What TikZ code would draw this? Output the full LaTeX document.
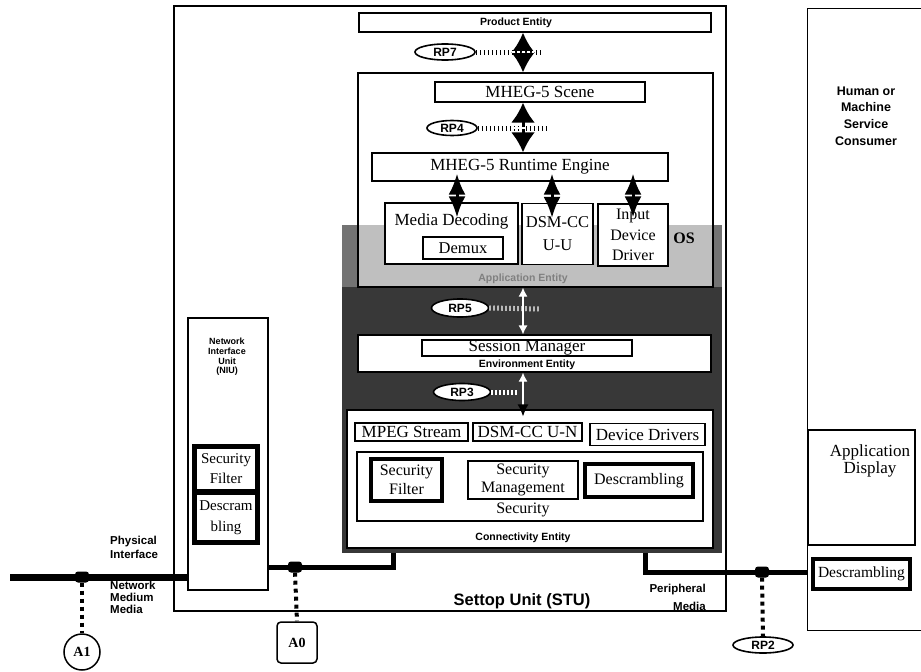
\documentclass[tikz,border=0pt]{standalone}
\usepackage{fontspec}
\setmainfont{Liberation Serif}
\setsansfont{Liberation Sans}
\usetikzlibrary{arrows.meta,shapes.geometric,calc}
\begin{document}
\begin{tikzpicture}[x=1pt,y=-1pt,
  stuframe/.style={draw, line width=1.3pt, inner sep=0pt},
  boxw/.style={draw, fill=white, line width=1.2pt, inner sep=0pt, align=center, font=\fontsize{17}{19}\selectfont},
  boxt/.style={boxw, line width=3.5pt, font=\fontsize{16}{19}\selectfont},
  lbl/.style={inner sep=0pt, align=center, font=\sffamily\bfseries\fontsize{10.5}{12}\selectfont},
  rpell/.style={draw, ellipse, line width=1.6pt, fill=white, inner sep=0pt, font=\sffamily\bfseries\fontsize{12}{12}\selectfont},
  dblA/.style={line width=3pt, {Latex[length=20pt,width=24pt]}-{Latex[length=20pt,width=24pt]}},
  dblB/.style={line width=3pt, {Latex[length=21pt,width=17pt]}-{Latex[length=21pt,width=17pt]}},
  tickline/.style={line width=5pt, dash pattern=on 1.4pt off 2.6pt},
  sqline/.style={line width=4pt, dash pattern=on 4pt off 4pt},
  jblob/.style={fill=black, rounded corners=3pt, minimum width=14pt, minimum height=11pt, inner sep=0pt},
  medline/.style={line width=5pt},
  netline/.style={line width=7pt},
]
\useasboundingbox (0,0) rectangle (921,672);

% Settop unit frame
\node[stuframe, minimum width=552pt, minimum height=605pt] (stu) at (450,308.5) {};
\node[lbl, font=\sffamily\bfseries\fontsize{16.5}{18}\selectfont] (stulab) at (522,601) {Settop Unit (STU)};

% consumer
\node[stuframe, anchor=north west, minimum width=130pt, minimum height=622pt] (cons) at (807,8) {};
\node[lbl, font=\sffamily\bfseries\fontsize{12.5}{16.7}\selectfont] (conslab) at (866,116) {Human or\\Machine\\Service\\Consumer};

% product entity
\node[boxw, minimum width=352pt, minimum height=19pt] (pe) at (535,22.5) {};
\node[lbl] (pelab) at (516,22.5) {Product Entity};

% OS region and application entity
\node[fill=black!78, inner sep=0pt, minimum width=380pt, minimum height=328pt] (os) at (532,389) {};
\fill[black!55] (342,225) rectangle (722,287);
\fill[white] (358,73) rectangle (713,225);
\fill[black!25] (358,225) rectangle (713,287);
\node[draw, line width=1.2pt, inner sep=0pt, minimum width=355pt, minimum height=214pt] (app) at (535.5,180) {};
\node[lbl, text=black!50] (applab) at (523,279) {Application Entity};
\node[inner sep=0pt, font=\bfseries\fontsize{16}{16}\selectfont] (oslab) at (684,238) {OS};

% MHEG boxes
\node[boxw, minimum width=210pt, minimum height=20pt] (scene) at (540,92) {MHEG-5 Scene};
\node[boxw, minimum width=296pt, minimum height=28pt] (rt) at (520,167) {MHEG-5 Runtime Engine};
\node[boxw, minimum width=133pt, minimum height=61pt] (md) at (451.5,233.5) {};
\node[inner sep=0pt, font=\fontsize{17}{17}\selectfont] (mdlab) at (451.5,221) {Media Decoding};
\node[boxw, font=\fontsize{16.5}{17}\selectfont, minimum width=80pt, minimum height=22pt] (demux) at (463,248) {Demux};
\node[boxw, font=\fontsize{16.5}{23}\selectfont, minimum width=71pt, minimum height=61pt] (uu) at (557.5,234) {DSM-CC\\U-U};
\node[boxw, font=\fontsize{16}{20.5}\selectfont, minimum width=70pt, minimum height=62pt] (idd) at (633,235) {Input\\Device\\Driver};

% reference points top
\coordinate (ax) at (523,0);
\node[rpell, minimum width=60pt, minimum height=16pt] (rp7) at (445,52) {RP7};
\coordinate (t7) at (540,52);
\draw[tickline] (rp7.east) -- (t7);
\draw[dblA] (pe.south -| ax) -- (app.north -| ax);
\draw[white, line width=1.3pt, dash pattern=on 3pt off 2pt] ($(t7)+(-28,0)$) -- ($(t7)+(-6,0)$);

\node[rpell, minimum width=50pt, minimum height=15pt] (rp4) at (452,128) {RP4};
\coordinate (t4) at (548,128);
\draw[tickline] (rp4.east) -- (t4);
\draw[dblA] (scene.south -| ax) -- (rt.north -| ax);
\draw[white, line width=1.3pt, dash pattern=on 3pt off 2pt] ($(t4)+(-36,0)$) -- ($(t4)+(-14,0)$);

\coordinate (m1) at (457,0);
\coordinate (m2) at (552,0);
\coordinate (m3) at (633,0);
\draw[dblB] ($(rt.south -| m1)+(0,-8)$) -- ($(md.north -| m1)+(0,15)$);
\draw[dblB] ($(rt.south -| m2)+(0,-8)$) -- ($(uu.north -| m2)+(0,15)$);
\draw[dblB] ($(rt.south -| m3)+(0,-8)$) -- ($(idd.north -| m3)+(0,14)$);

% environment entity
\node[boxw, minimum width=353pt, minimum height=37pt] (env) at (534.5,353.5) {};
\node[boxw, minimum width=210pt, minimum height=16pt] (sm) at (527,348) {Session Manager};
\node[lbl] (envlab) at (527,365) {Environment Entity};

\node[rpell, minimum width=57pt, minimum height=18pt] (rp5) at (460,308) {RP5};
\coordinate (t5) at (540,309);
\draw[tickline, white] (rp5.east) -- (t5);
\draw[white, line width=1.2pt, {Latex[length=9pt,width=9pt]}-{Latex[length=9pt,width=9pt]}] (app.south -| ax) -- (env.north -| ax);

% connectivity entity
\node[boxw, minimum width=366pt, minimum height=138pt] (conn) at (530,479) {};
\node[lbl] (connlab) at (523,538) {Connectivity Entity};
\node[boxw, minimum width=113pt, minimum height=18pt] (mpeg) at (411.5,432) {MPEG Stream};
\node[boxw, minimum width=109pt, minimum height=18pt] (un) at (527.5,432) {DSM-CC U-N};
\node[boxw, minimum width=115pt, minimum height=22pt] (dd) at (647.5,434.5) {Device Drivers};
\node[boxw, minimum width=346pt, minimum height=69pt] (sec) at (530,486.5) {};
\node[inner sep=0pt, font=\fontsize{16}{16}\selectfont] (seclab) at (523,510) {Security};
\node[boxt, minimum width=71pt, minimum height=42pt] (sf) at (406.5,480) {Security\\Filter};
\node[boxw, font=\fontsize{16}{18.5}\selectfont, minimum width=110pt, minimum height=38pt] (smg) at (523,480) {Security\\Management};
\node[boxt, minimum width=108pt, minimum height=33pt] (dsc) at (639,480.5) {Descrambling};

\node[rpell, minimum width=57pt, minimum height=17pt] (rp3) at (462,392) {RP3};
\coordinate (t3) at (518,392);
\draw[tickline, white] (rp3.east) -- (t3);
\draw[white, line width=1.2pt, {Latex[length=9pt,width=9pt]}-{Latex[length=12pt,width=11pt,color=black]}] (env.south -| ax) -- ($(conn.north -| ax)+(0,7)$);

% network interface unit
\node[stuframe, minimum width=80pt, minimum height=272pt] (niu) at (228,454) {};
\node[lbl, font=\sffamily\bfseries\fontsize{9}{9.7}\selectfont] (niulab) at (227,357) {Network\\Interface\\Unit\\(NIU)};
\node[fill=black, inner sep=0pt, minimum width=68pt, minimum height=101pt] (niublk) at (226,494.5) {};
\node[fill=white, inner sep=0pt, align=center, font=\fontsize{15}{20}\selectfont, minimum width=58pt, minimum height=40pt] (nsf) at (226,469) {Security\\Filter};
\node[fill=white, inner sep=0pt, align=center, font=\fontsize{15}{21}\selectfont, minimum width=58pt, minimum height=45pt] (nds) at (226,517.5) {Descram\\bling};

% network medium
\coordinate (netend) at (10,577);
\draw[netline] (netend) -- (niu.west |- netend);
\node[jblob] (ja1) at (82,577) {};
\node[circle, draw, line width=1.5pt, minimum size=36pt, inner sep=0pt, font=\bfseries\fontsize{14}{14}\selectfont] (a1) at (82,652) {A1};
\draw[sqline] (ja1.south) -- (a1.north);

\coordinate (c0) at (393,567);
\draw[medline] (niu.east |- c0) -- (c0) -- (c0 |- os.south);
\node[jblob] (ja0) at (295,567) {};
\node[draw, rounded corners=4pt, line width=1.5pt, minimum width=40pt, minimum height=41pt, inner sep=0pt, font=\bfseries\fontsize{14}{14}\selectfont] (a0) at (297,642.5) {A0};
\draw[sqline] (ja0.south) -- (a0.north);

% peripheral media
\coordinate (c2) at (645,572);
\draw[medline] (c2 |- os.south) -- (c2) -- (cons.west |- c2);
\node[jblob] (jrp2) at (762,572) {};
\node[rpell, minimum width=60pt, minimum height=16pt] (rp2) at (763,645) {RP2};
\draw[sqline] (jrp2.south) -- (rp2.north);

% consumer inner boxes
\node[stuframe, line width=1.2pt, minimum width=107pt, minimum height=115pt] (appd) at (861.5,487.5) {};
\node[inner sep=0pt, align=center, font=\fontsize{17}{17}\selectfont] (appdlab) at (870,461) {Application\\Display};
\node[boxt, font=\fontsize{15.5}{16}\selectfont, minimum width=97pt, minimum height=30pt] (dsc2) at (861.5,574) {Descrambling};

% side labels
\node[lbl, align=left, anchor=west, font=\sffamily\bfseries\fontsize{11.5}{14}\selectfont] (phys) at (110,547) {Physical\\Interface};
\node[lbl, align=left, anchor=west, font=\sffamily\bfseries\fontsize{11.5}{12}\selectfont] (nmm) at (110,597) {Network\\Medium\\Media};
\node[lbl, align=right, anchor=east, font=\sffamily\bfseries\fontsize{11.5}{18}\selectfont] (pm) at (706,597) {Peripheral\\Media};
\end{tikzpicture}
\end{document}
